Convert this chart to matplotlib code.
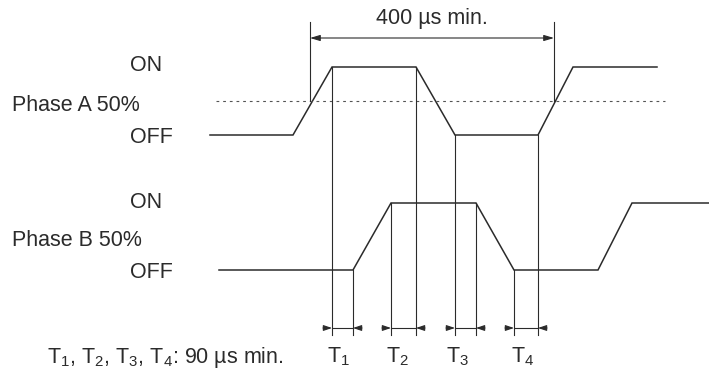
## timing chart: phase A / phase B encoder outputs

import matplotlib.pyplot as plt

plt.rcParams['font.family'] = ['Liberation Sans', 'DejaVu Sans']
plt.rcParams['mathtext.fontset'] = 'custom'
plt.rcParams['mathtext.rm'] = 'Liberation Sans'
plt.rcParams['mathtext.it'] = 'Liberation Sans'

#####################
# Data
#####################

# waveform break points (horizontal position) and logic level (0 = OFF, 1 = ON)
phase_a_t = [210, 293, 332, 416, 455, 538, 573, 657]
phase_a_lvl = [0, 0, 1, 1, 0, 0, 1, 1]
phase_b_t = [219, 353, 391, 476, 514, 598, 632, 709]
phase_b_lvl = [0, 0, 1, 1, 0, 0, 1, 1]

# vertical level of OFF / ON for each signal
a_off, a_on = 135, 67
b_off, b_on = 270, 203

# 400 us window (crossings of the 50% line)
window = [310, 554]
window_label = '400 µs min.'

# T1..T4 intervals: (edge of one phase, edge of the other)
t_pairs = [(332, 353), (391, 416), (455, 476), (514, 538)]
t_labels = ['T$_1$', 'T$_2$', 'T$_3$', 'T$_4$']
t_label_x = [338, 397, 457, 523]
note = 'T$_1$, T$_2$, T$_3$, T$_4$: 90 µs min.'

col = '#2b2b2b'
fs = 15.5

def level_y(lvl, off, on):
    return [off + (on - off) * v for v in lvl]

fig = plt.figure(figsize=(7.09, 3.74), dpi=100)
ax = fig.add_axes([0, 0, 1, 1])
ax.set_xlim(0, 709)
ax.set_ylim(374, 0)
ax.set_axis_off()

# waveforms
ay = level_y(phase_a_lvl, a_off, a_on)
by = level_y(phase_b_lvl, b_off, b_on)
ax.plot(phase_a_t, ay, color=col, lw=1.1, solid_joinstyle='miter')
ax.plot(phase_b_t, by, color=col, lw=1.1, solid_joinstyle='miter')

# 50% dotted line of phase A
mid_a = (a_off + a_on) / 2
ax.plot([216, 665], [mid_a, mid_a], color='#555555', lw=0.8, ls=(0, (2.5, 3.5)))

# 400 us dimension
top = 22
for x in window:
    ax.plot([x, x], [top, mid_a], color=col, lw=0.8)
ax.annotate('', xy=(window[0], 38), xytext=(window[1], 38),
            arrowprops=dict(arrowstyle='<|-|>,head_length=0.6,head_width=0.18',
                            color=col, lw=0.8, shrinkA=0, shrinkB=0))
ax.text(sum(window) / 2, 18, window_label, ha='center', va='center',
        fontsize=fs, color=col)

# edge marker lines down to the T arrows
arrow_y = 328
bottom = 335
for x0, x1 in t_pairs:
    for x in (x0, x1):
        # start where the waveform turns at this point
        if x in phase_a_t:
            y0 = ay[phase_a_t.index(x)]
        else:
            y0 = by[phase_b_t.index(x)]
        ax.plot([x, x], [y0, bottom], color=col, lw=0.8)
    ax.plot([x0, x1], [arrow_y, arrow_y], color=col, lw=0.8)
    ax.annotate('', xy=(x0, arrow_y), xytext=(x0 - 9, arrow_y),
                arrowprops=dict(arrowstyle='-|>,head_length=0.5,head_width=0.17',
                                color=col, lw=0.8, shrinkA=0, shrinkB=0))
    ax.annotate('', xy=(x1, arrow_y), xytext=(x1 + 9, arrow_y),
                arrowprops=dict(arrowstyle='-|>,head_length=0.5,head_width=0.17',
                                color=col, lw=0.8, shrinkA=0, shrinkB=0))

for x, lab in zip(t_label_x, t_labels):
    ax.text(x, 357, lab, ha='center', va='center', fontsize=fs, color=col)

# left labels
ax.text(146, 65, 'ON', ha='center', va='center', fontsize=fs, color=col)
ax.text(12, 105, 'Phase A 50%', ha='left', va='center', fontsize=fs, color=col)
ax.text(151, 137, 'OFF', ha='center', va='center', fontsize=fs, color=col)
ax.text(146, 202, 'ON', ha='center', va='center', fontsize=fs, color=col)
ax.text(12, 240, 'Phase B 50%', ha='left', va='center', fontsize=fs, color=col)
ax.text(151, 272, 'OFF', ha='center', va='center', fontsize=fs, color=col)

ax.text(47, 357, note, ha='left', va='center', fontsize=fs, color=col)

fig.savefig('out.png', dpi=100)
